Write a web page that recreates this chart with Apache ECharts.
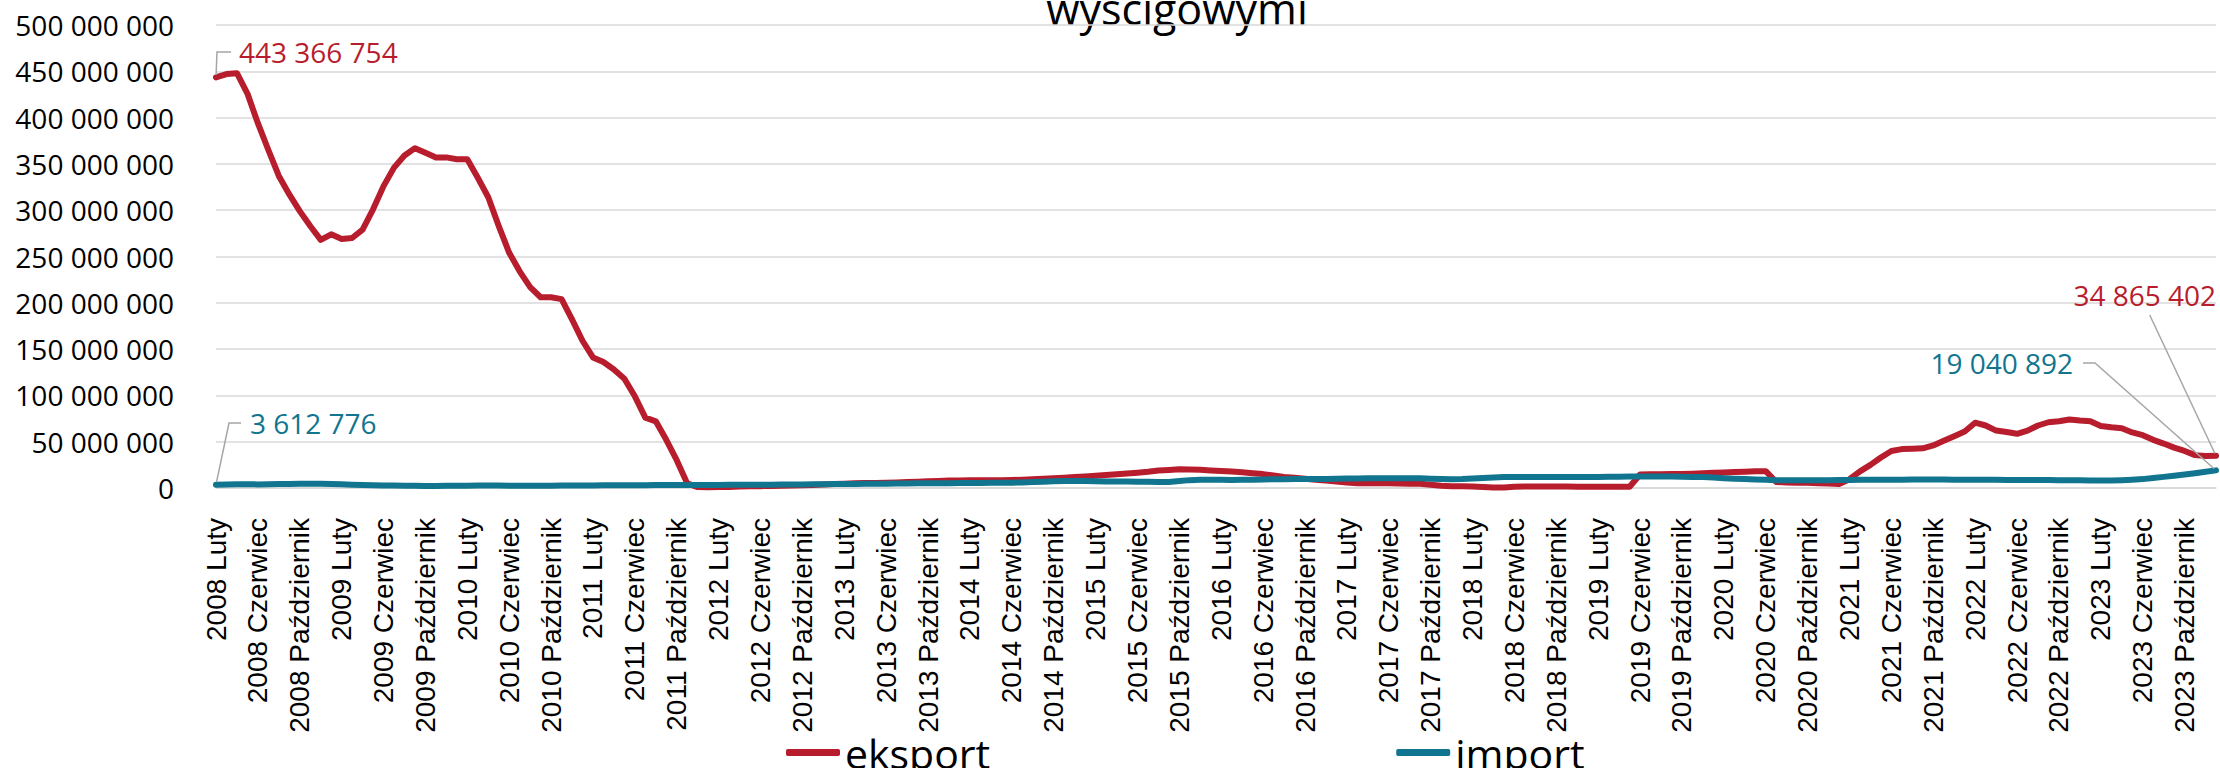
<!DOCTYPE html>
<html><head><meta charset="utf-8">
<script src="https://cdn.jsdelivr.net/npm/echarts@6/dist/echarts.min.js"></script>
<style>html,body{margin:0;padding:0;background:#fff}#c{width:2220px;height:768px}</style>
</head><body><div id="c"></div>
<script>
// ---- data ----
const titleText = 'wyścigowymi';
const seriesNames = ['eksport', 'import'];
const startYear = 2008;
const startMonthIdx = 1; // Luty
const monthNames = ['Styczeń','Luty','Marzec','Kwiecień','Maj','Czerwiec','Lipiec','Sierpień','Wrzesień','Październik','Listopad','Grudzień'];
// values in millions
const eksportMln = [
 443.366754, 447, 448, 426, 394, 365, 337, 317, 299, 283,
 268, 274, 269, 270, 279, 301, 326, 346, 359, 367,
 362, 357, 357, 355, 355, 335, 314, 283, 254, 234,
 217, 206, 206, 204, 182, 159, 141, 136, 128, 118,
 99, 76, 72, 52, 30, 5, 1, 0.8, 1, 1.2,
 1.5, 1.8, 2, 2.2, 2.5, 2.8, 3, 3.3, 3.8, 4.2,
 4.6, 5, 5.3, 5.5, 5.8, 6, 6.4, 6.8, 7.2, 7.6,
 8, 8.2, 8.3, 8.4, 8.3, 8.4, 8.6, 9, 9.5, 10,
 10.6, 11.2, 11.8, 12.5, 13.2, 14, 14.8, 15.6, 16.5, 17.5,
 18.8, 19.5, 20.2, 20, 19.6, 19, 18.4, 17.8, 17, 16,
 15, 13.5, 12, 11, 10, 9, 8, 7, 6, 5.2,
 5, 5, 5, 4.8, 4.7, 4.6, 3.5, 2.4, 2, 1.8,
 1.5, 1, 0.6, 0.5, 1.4, 1.5, 1.6, 1.6, 1.5, 1.5,
 1.4, 1.4, 1.3, 1.3, 1.3, 1.4, 14.5, 14.8, 14.8, 15,
 15.2, 15.5, 16, 16.5, 16.8, 17.2, 17.5, 18, 18.2, 6.5,
 6, 5.8, 5.6, 5.2, 4.8, 4.2, 9.5, 18, 25, 33,
 40, 42, 42.3, 42.8, 46, 51, 56, 61, 70.5, 67.5,
 62, 60.5, 58.5, 62, 67.5, 71, 72, 74, 72.8, 72,
 67, 65.5, 64.5, 60, 57, 52, 48, 43.6, 40, 35.5,
 34.5, 34.865402
];
const importMln = [
 3.612776, 3.8, 4, 4, 3.9, 4, 4.2, 4.3, 4.5, 4.6,
 4.5, 4.3, 4, 3.6, 3.3, 3, 2.8, 2.6, 2.5, 2.3,
 2.2, 2.2, 2.3, 2.4, 2.5, 2.6, 2.8, 2.7, 2.5, 2.4,
 2.3, 2.4, 2.5, 2.6, 2.7, 2.8, 2.8, 2.9, 3, 3,
 3.1, 3.1, 3.2, 3.3, 3.3, 3.3, 3.3, 3.3, 3.3, 3.4,
 3.4, 3.5, 3.5, 3.6, 3.7, 3.8, 3.9, 4, 4.1, 4.2,
 4.3, 4.4, 4.5, 4.6, 4.7, 4.8, 4.9, 5, 5, 5.1,
 5.2, 5.3, 5.4, 5.5, 5.6, 5.6, 5.7, 6, 6.4, 6.8,
 7.2, 7.5, 7.6, 7.5, 7.3, 7.1, 7, 6.9, 6.8, 6.7,
 6.6, 6.6, 7.5, 8.5, 8.8, 8.8, 8.8, 8.7, 8.8, 9,
 9.2, 9.4, 9.5, 9.6, 9.6, 9.6, 9.8, 10, 10.2, 10.3,
 10.4, 10.5, 10.5, 10.6, 10.5, 10.4, 10, 9.6, 9.4, 9.6,
 10.2, 10.8, 11.4, 11.8, 12, 12, 11.9, 11.8, 11.9, 12,
 12, 12, 12, 12.1, 12.2, 12.3, 12.4, 12.4, 12.4, 12.3,
 12.2, 12, 11.8, 11.3, 10.6, 10, 9.6, 9.2, 8.8, 8.5,
 8.5, 8.4, 8.4, 8.4, 8.5, 8.6, 8.7, 8.8, 8.9, 9,
 9, 9, 9.1, 9.2, 9.2, 9.1, 9, 9, 9, 8.9,
 8.8, 8.7, 8.7, 8.6, 8.6, 8.6, 8.5, 8.4, 8.3, 8.2,
 8.1, 8, 8.4, 9, 9.6, 10.8, 12, 13.2, 14.5, 16,
 17.5, 19.040892
];
const yMin = 0, yMax = 500, yStep = 50; // millions

// ---- helpers ----
const categories = eksportMln.map((_, i) => {
  const m = startMonthIdx + i;
  return (startYear + Math.floor(m / 12)) + ' ' + monthNames[m % 12];
});
const fmt = n => Math.round(n).toString().replace(/\B(?=(\d{3})+(?!\d))/g, ' ');
const HUM = "'Open Sans','Noto Sans',sans-serif";
const RED = '#B71D2D', BLUE = '#11758F', GRIDC = '#d9d9d9', LEAD = '#a6a6a6';
const lastIdx = eksportMln.length - 1;

// label placement (style only)
const labelPlace = {
  0: { 0:        { x: 231,  y: 52,  align: 'left',  padding: [0, 0, 0, 8],  len2: 14 },
       [lastIdx]: { x: 2226, y: 295, align: 'right', padding: [0, 10, 10, 0], len2: 0 } },
  1: { 0:        { x: 241,  y: 423, align: 'left',  padding: [0, 0, 0, 9],  len2: 12 },
       [lastIdx]: { x: 2083, y: 363, align: 'right', padding: [0, 10, 0, 0], len2: 12 } }
};

function buildData(vals, sIdx, color) {
  return vals.map((v, i) => {
    const p = labelPlace[sIdx][i];
    if (!p) return v;
    return {
      value: v,
      symbolSize: 5,
      label: {
        show: true, color: color, fontSize: 28, lineHeight: 30, fontFamily: HUM,
        padding: p.padding,
        formatter: q => fmt(q.value * 1e6)
      },
      labelLine: { show: true, length2: p.len2, lineStyle: { color: LEAD, width: 1.5 } }
    };
  });
}
function layoutFor(sIdx) {
  return params => {
    const p = labelPlace[sIdx][params.dataIndex];
    if (!p) return {};
    return { x: p.x, y: p.y, align: p.align, verticalAlign: 'middle' };
  };
}

const chart = echarts.init(document.getElementById('c'), null, { renderer: 'svg' });
chart.setOption({
  animation: false,
  backgroundColor: '#fff',
  graphic: [{
    type: 'text', x: 1177, y: 8,
    style: { text: titleText, fontSize: 43, fontFamily: HUM, fill: '#000', textAlign: 'center', textVerticalAlign: 'middle' }
  }],
  legend: {
    data: seriesNames,
    left: 781, top: 727,
    itemWidth: 54, itemHeight: 7, itemGap: 406,
    icon: 'roundRect',
    textStyle: { fontSize: 41, lineHeight: 41, fontFamily: HUM, color: '#000' }
  },
  grid: { left: 216, right: 4, top: 25, bottom: 280, containLabel: false, outerBoundsMode: 'none' },
  xAxis: {
    type: 'category', data: categories, boundaryGap: false,
    axisLine: { lineStyle: { color: GRIDC, width: 1.5 } },
    axisTick: { show: false },
    axisLabel: { interval: 3, rotate: 90, margin: 30, fontSize: 28, fontFamily: "'Liberation Sans',Arial,sans-serif", color: '#000' },
    splitLine: { show: false }
  },
  yAxis: {
    type: 'value', min: yMin, max: yMax, interval: yStep,
    axisLine: { show: false }, axisTick: { show: false },
    axisLabel: { margin: 42, fontSize: 28, fontFamily: HUM, color: '#000', formatter: v => fmt(v * 1e6) },
    splitLine: { lineStyle: { color: GRIDC, width: 1.5 } }
  },
  series: [
    {
      name: seriesNames[0], type: 'line', data: buildData(eksportMln, 0, RED),
      color: RED, symbol: 'circle', symbolSize: 0, showSymbol: true, showAllSymbol: true,
      lineStyle: { width: 6, color: RED, join: 'round', cap: 'round' },
      label: { show: false }, labelLayout: layoutFor(0), z: 3
    },
    {
      name: seriesNames[1], type: 'line', data: buildData(importMln, 1, BLUE),
      color: BLUE, symbol: 'circle', symbolSize: 0, showSymbol: true, showAllSymbol: true,
      lineStyle: { width: 6, color: BLUE, join: 'round', cap: 'round' },
      label: { show: false }, labelLayout: layoutFor(1), z: 4
    }
  ]
});
</script>
</body></html>
